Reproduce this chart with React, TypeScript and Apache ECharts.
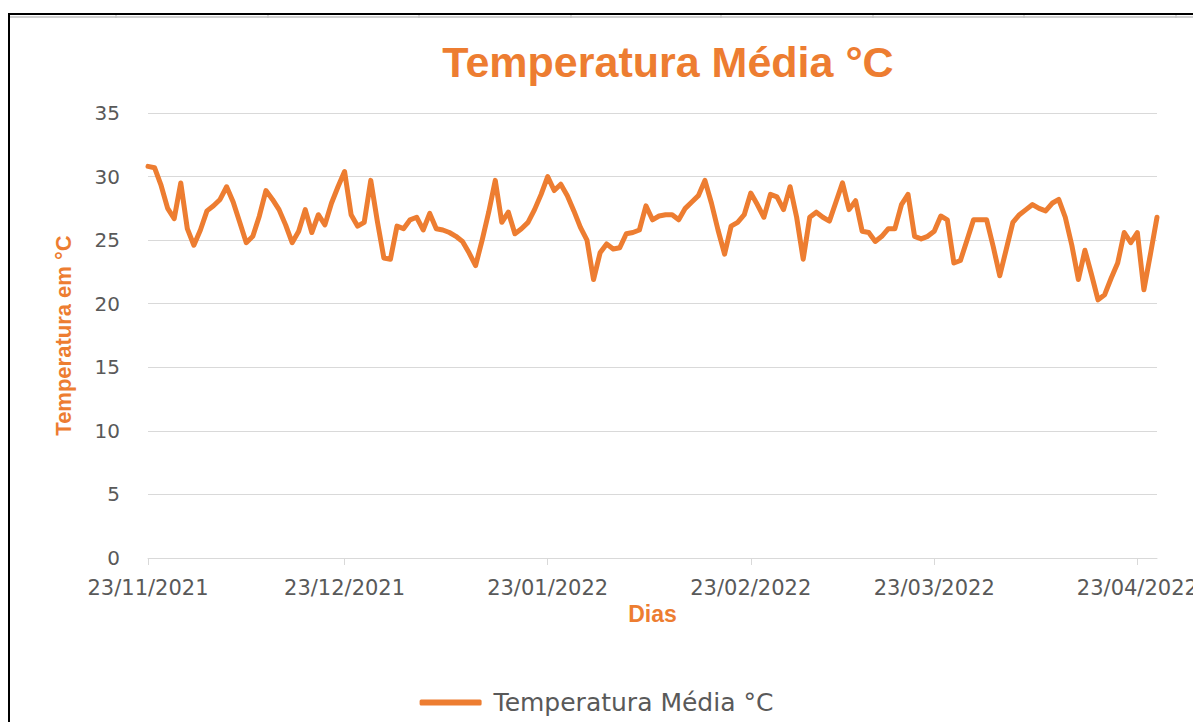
import React, { useEffect, useRef } from "react";
import * as echarts from "echarts";

const TITLE = "Temperatura Média °C";
const SERIES_NAME = "Temperatura Média °C";
const Y_NAME = "Temperatura em °C";
const X_NAME = "Dias";
const START_DATE = [2021, 11, 23]; // first day of the series (year, month, day)

// Daily mean temperature (°C), 23/11/2021 → 26/04/2022
const temps: number[] = [
  30.8, 30.7, 29.3, 27.5, 26.7, 29.5, 25.9, 24.6, 25.8, 27.3,
  27.7, 28.2, 29.2, 28.0, 26.4, 24.8, 25.3, 26.9, 28.9, 28.2,
  27.4, 26.2, 24.8, 25.7, 27.4, 25.6, 27.0, 26.2, 27.9, 29.2,
  30.4, 27.0, 26.1, 26.4, 29.7, 26.5, 23.6, 23.5, 26.1, 25.9,
  26.6, 26.8, 25.8, 27.1, 25.9, 25.8, 25.6, 25.3, 24.9, 24.0,
  23.0, 25.0, 27.2, 29.7, 26.4, 27.2, 25.5, 25.9, 26.4, 27.4,
  28.6, 30.0, 28.9, 29.4, 28.5, 27.3, 26.0, 25.0, 21.9, 24.0,
  24.7, 24.3, 24.4, 25.5, 25.6, 25.8, 27.7, 26.6, 26.9, 27.0,
  27.0, 26.6, 27.5, 28.0, 28.5, 29.7, 27.9, 25.8, 23.9, 26.1,
  26.4, 27.0, 28.7, 27.8, 26.8, 28.6, 28.4, 27.4, 29.2, 26.8,
  23.5, 26.8, 27.2, 26.8, 26.5, 28.0, 29.5, 27.4, 28.1, 25.7,
  25.6, 24.9, 25.3, 25.9, 25.9, 27.8, 28.6, 25.3, 25.1, 25.3,
  25.7, 26.9, 26.6, 23.2, 23.4, 25.0, 26.6, 26.6, 26.6, 24.5,
  22.2, 24.3, 26.4, 27.0, 27.4, 27.8, 27.5, 27.3, 27.9, 28.2,
  26.8, 24.6, 21.9, 24.2, 22.3, 20.3, 20.7, 22.0, 23.2, 25.6,
  24.8, 25.6, 21.1, 23.9, 26.8,
];

const pad = (n: number) => (n < 10 ? "0" + n : "" + n);
const days: string[] = temps.map((_, i) => {
  const d = new Date(START_DATE[0], START_DATE[1] - 1, START_DATE[2] + i);
  return `${pad(d.getDate())}/${pad(d.getMonth() + 1)}/${d.getFullYear()}`;
});

const ORANGE = "#ED7D31";
const GREY = "#595959";
const GRID = "#D9D9D9";
const colTicks = [116, 268, 419, 571, 721, 873, 1024, 1176];

export default function App() {
  const ref = useRef<HTMLDivElement>(null);
  useEffect(() => {
    if (!ref.current) return;
    const chart = echarts.init(ref.current, null, { renderer: "svg" });
    const isMark = (_i: number, v: string) => v.startsWith("23/");
    chart.setOption({
      animation: false,
      backgroundColor: "#ffffff",
      title: {
        text: TITLE,
        left: 663,
        top: 35,
        textAlign: "center",
        textStyle: {
          color: ORANGE,
          fontSize: 43,
          fontWeight: "bold",
          fontFamily: "Liberation Sans, Arial, sans-serif",
        },
      },
      legend: {
        left: "center",
        top: 685,
        icon: "roundRect",
        itemWidth: 62,
        itemHeight: 6,
        data: [SERIES_NAME],
        textStyle: {
          color: GREY,
          fontSize: 25,
          fontFamily: "DejaVu Sans, sans-serif",
          padding: [0, 0, 0, 7],
        },
      },
      grid: { left: 148, right: 36, top: 113, bottom: 164, outerBoundsMode: "none", containLabel: false },
      xAxis: {
        type: "category",
        data: days,
        boundaryGap: false,
        name: X_NAME,
        nameLocation: "middle",
        nameGap: 38,
        nameTextStyle: {
          color: ORANGE,
          fontSize: 23,
          fontWeight: "bold",
          fontFamily: "Liberation Sans, Arial, sans-serif",
        },
        axisLine: { show: true, lineStyle: { color: GRID, width: 1 } },
        axisTick: { show: true, interval: isMark, length: 7, lineStyle: { color: GRID } },
        axisLabel: {
          interval: isMark,
          color: GREY,
          fontSize: 21,
          margin: 19,
          fontFamily: "DejaVu Sans, sans-serif",
        },
        splitLine: { show: false },
      },
      yAxis: {
        type: "value",
        min: 0,
        max: 35,
        interval: 5,
        name: Y_NAME,
        nameLocation: "middle",
        nameGap: 74,
        nameRotate: 90,
        nameTextStyle: {
          color: ORANGE,
          fontSize: 22,
          fontWeight: "bold",
          fontFamily: "Liberation Sans, Arial, sans-serif",
        },
        axisLine: { show: false },
        axisTick: { show: false },
        axisLabel: {
          color: GREY,
          fontSize: 20,
          margin: 28,
          fontFamily: "DejaVu Sans, sans-serif",
        },
        splitLine: { lineStyle: { color: GRID, width: 1 } },
      },
      series: [
        {
          name: SERIES_NAME,
          type: "line",
          data: temps,
          symbol: "none",
          lineStyle: { color: ORANGE, width: 5, join: "round", cap: "round" },
          itemStyle: { color: ORANGE },
        },
      ],
      graphic: [
        {
          type: "line",
          shape: { x1: 8, y1: 17, x2: 1193, y2: 17 },
          style: { stroke: "#D0D0D0", lineWidth: 2 },
          silent: true,
        },
        ...colTicks.map((x) => ({
          type: "line",
          shape: { x1: x, y1: 14, x2: x, y2: 18 },
          style: { stroke: "#BFBFBF", lineWidth: 1 },
          silent: true,
        })),
        {
          type: "polyline",
          shape: { points: [[9, 722], [9, 14], [1193, 14]] },
          style: { stroke: "#000000", lineWidth: 2, fill: null },
          silent: true,
        },
      ],
    });
    return () => chart.dispose();
  }, []);
  return (
    <div
      ref={ref}
      style={{ position: "fixed", left: 0, top: 0, width: 1193, height: 722, background: "#fff" }}
    />
  );
}
